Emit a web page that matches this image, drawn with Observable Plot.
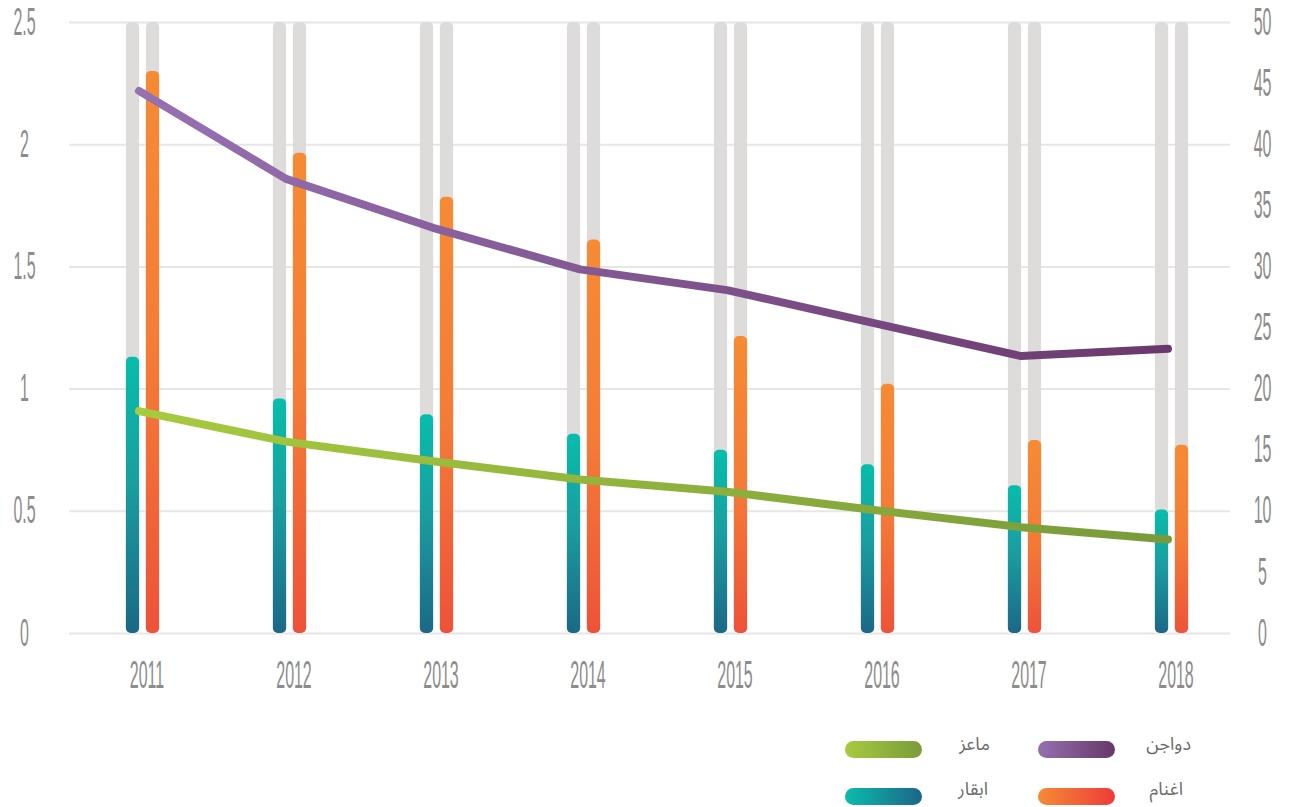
<!DOCTYPE html>
<html>
<head>
<meta charset="utf-8">
<script src="https://cdn.jsdelivr.net/npm/d3@7"></script>
<script src="https://cdn.jsdelivr.net/npm/@observablehq/plot@0.6"></script>
<style>
  html, body { margin: 0; padding: 0; background: #ffffff; }
  #chart svg { display: block; }
  #legend { position: relative; width: 1289px; height: 102px; font-family: "Noto Sans Arabic", "DejaVu Sans", sans-serif; }
  .sw { position: absolute; width: 77px; height: 17px; border-radius: 9px; }
  .lt { position: absolute; font-size: 18px; line-height: 22px; color: #6b6b6b; direction: rtl; white-space: nowrap; }
</style>
</head>
<body>
<div id="chart"></div>
<div id="legend"></div>
<script>
// ---- data ----
const years = ["2011", "2012", "2013", "2014", "2015", "2016", "2017", "2018"];
const cattle = [1.13, 0.96, 0.895, 0.815, 0.75, 0.69, 0.605, 0.505];   // ابقار (left axis)
const sheep  = [2.30, 1.965, 1.785, 1.61, 1.215, 1.02, 0.79, 0.77];    // اغنام (left axis)
const poultry = [44.4, 37.2, 33.2, 29.8, 28.1, 25.4, 22.7, 23.3];     // دواجن (right axis)
const goats   = [18.2, 15.7, 14.1, 12.6, 11.6, 10.1, 8.7, 7.7];       // ماعز (right axis)
const leftTicks = [0, 0.5, 1, 1.5, 2, 2.5];
const rightTicks = [0, 5, 10, 15, 20, 25, 30, 35, 40, 45, 50];
const leftMax = 2.5, rightMax = 50;
const ratio = rightMax / leftMax;
const seriesNames = { poultry: "دواجن", goats: "ماعز", cattle: "ابقار", sheep: "اغنام" };

const rows = years.map((y, i) => ({ year: y, cattle: cattle[i], sheep: sheep[i], poultry: poultry[i], goats: goats[i] }));

const W = 1289, H = 705, mL = 66, mR = 41;
const bw = (W - mL - mR) / years.length;
const barW = 14;
const ins = (bw - barW) / 2;

const svg = Plot.plot({
  width: W, height: H,
  marginLeft: mL, marginRight: mR, marginTop: 22, marginBottom: H - 633,
  x: { type: "band", domain: years, padding: 0, label: null },
  y: { domain: [0, leftMax], label: null },
  style: { fontFamily: "'Liberation Sans', sans-serif", color: "#8c8c8c", background: "white" },
  marks: [
    Plot.ruleY(leftTicks, { stroke: "#e6e6e6", strokeWidth: 2, insetLeft: 3, insetRight: 18 }),
    Plot.barY(years, { x: d => d, y: () => leftMax, fill: "#dddcda", rx: 5, insetLeft: ins, insetRight: ins, dx: -10 }),
    Plot.barY(years, { x: d => d, y: () => leftMax, fill: "#dddcda", rx: 5, insetLeft: ins, insetRight: ins, dx: 10 }),
    Plot.barY(rows, { x: "year", y: "cattle", fill: "url(#gTeal)", rx: 5, insetLeft: ins, insetRight: ins, dx: -10 }),
    Plot.barY(rows, { x: "year", y: "sheep", fill: "url(#gOrange)", rx: 5, insetLeft: ins, insetRight: ins, dx: 10 }),
    Plot.line(rows, { x: "year", y: d => d.poultry / ratio, stroke: "url(#gPurple)", strokeWidth: 8, strokeLinecap: "round", strokeLinejoin: "round", dx: -4 }),
    Plot.line(rows, { x: "year", y: d => d.goats / ratio, stroke: "url(#gGreen)", strokeWidth: 8, strokeLinecap: "round", strokeLinejoin: "round", dx: -4 }),
    Plot.axisY(leftTicks, { anchor: "left", tickSize: 0, tickPadding: 3, textAnchor: "middle", dx: -39, fontSize: 38, tickFormat: d => String(d), label: null }),
    Plot.axisY(rightTicks.map(v => v / ratio), { anchor: "right", tickSize: 0, tickPadding: 3, textAnchor: "middle", dx: 11, fontSize: 38, tickFormat: d => String(Math.round(d * ratio)), label: null }),
    Plot.axisX({ tickSize: 0, tickPadding: 28, fontSize: 38, dx: 4, label: null })
  ]
});

// gradients
const defs = d3.select(svg).insert("defs", ":first-child");
function grad(id, vertical, stops) {
  const g = defs.append("linearGradient").attr("id", id)
    .attr("x1", 0).attr("y1", 0).attr("x2", vertical ? 0 : 1).attr("y2", vertical ? 1 : 0);
  stops.forEach(([o, c]) => g.append("stop").attr("offset", o).attr("stop-color", c));
}
grad("gTeal", true, [[0, "#07bdab"], [0.45, "#1a9ea0"], [1, "#1b6886"]]);
grad("gOrange", true, [[0, "#f68b34"], [0.5, "#f47c37"], [1, "#ee5239"]]);
grad("gPurple", false, [[0, "#9671b2"], [1, "#6a386c"]]);
grad("gGreen", false, [[0, "#a7ca3e"], [1, "#789a3a"]]);

// condensed tick labels (horizontal squeeze only)
d3.select(svg).selectAll("g[aria-label$='tick label'] text").each(function () {
  const el = this;
  const t = el.getAttribute("transform") || "";
  const xa = el.getAttribute("x");
  const x = xa != null && isFinite(+xa) ? +xa : 0;
  if (xa != null) el.removeAttribute("x");
  el.setAttribute("transform", `${t} translate(${x},0) scale(0.42,1)`);
});

document.getElementById("chart").appendChild(svg);

// legend
const legend = d3.select("#legend");
const items = [
  { key: "goats", swLeft: 845, row: 0, textRight: 299, g: "linear-gradient(to right, #a7ca3e, #7b9b3b)" },
  { key: "poultry", swLeft: 1038, row: 0, textRight: 98, g: "linear-gradient(to right, #9470b0, #673768)" },
  { key: "cattle", swLeft: 845, row: 1, textRight: 301, g: "linear-gradient(to right, #0cbcab, #1b6689)" },
  { key: "sheep", swLeft: 1038, row: 1, textRight: 106, g: "linear-gradient(to right, #f68b35, #ee3b3a)" }
];
items.forEach(it => {
  legend.append("div").attr("class", "sw")
    .style("left", it.swLeft + "px").style("top", (36 + it.row * 47) + "px")
    .style("background", it.g);
  legend.append("div").attr("class", "lt")
    .style("right", it.textRight + "px").style("top", (28 + it.row * 45) + "px")
    .text(seriesNames[it.key]);
});
</script>
</body>
</html>
